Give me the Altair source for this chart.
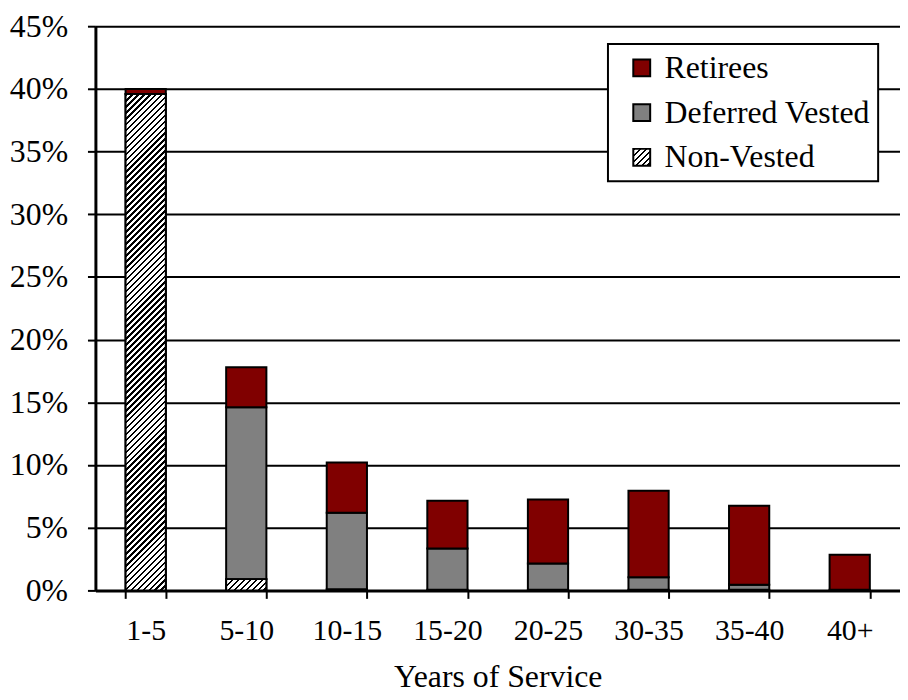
import altair as alt
import pandas as pd

# ---- data (percent of members) ----
categories = ["1-5", "5-10", "10-15", "15-20", "20-25", "30-35", "35-40", "40+"]
series = ["Retirees", "Deferred Vested", "Non-Vested"]
non_vested = [39.6, 0.9, 0.1, 0.05, 0.05, 0.05, 0.05, 0.05]
deferred = [0.0, 13.7, 6.1, 3.3, 2.1, 1.0, 0.4, 0.0]
retirees = [0.4, 3.2, 4.0, 3.8, 5.1, 6.9, 6.3, 2.8]
y_ticks = [0, 5, 10, 15, 20, 25, 30, 35, 40, 45]

# ---- layout / style ----
PLOT_W = 810
PLOT_H = 568
Y_MAX = 0.45
FONT = "Liberation Serif"
RED = "#800000"
GRAY = "#808080"
BAR_FRAC = 0.4
PERIOD = 6.0  # hatch period in (x+y) pixels


def hatch_gradient(w, h, period=PERIOD, dark=0.45):
    t = (w + h) / (w * w + h * h)
    span = w + h
    stops = []
    pos = 0.0
    while pos < span:
        a = pos / span
        b = min((pos + dark * period) / span, 1.0)
        c = min((pos + period) / span, 1.0)
        stops += [
            {"offset": round(a, 5), "color": "black"},
            {"offset": round(b, 5), "color": "black"},
            {"offset": round(b, 5), "color": "white"},
            {"offset": round(c, 5), "color": "white"},
        ]
        pos += period
    return {"gradient": "linear", "x1": 0, "y1": 0,
            "x2": round(t * w, 6), "y2": round(t * h, 6), "stops": stops}


def hatch_expr(size):
    g = hatch_gradient(size, size)
    stops = ",".join("{offset:%s,color:'%s'}" % (s["offset"], s["color"]) for s in g["stops"])
    return "{gradient:'linear',x1:0,y1:0,x2:1,y2:1,stops:[%s]}" % stops


rows = []
for i, cat in enumerate(categories):
    for order, (name, vals) in enumerate(
        [("Non-Vested", non_vested), ("Deferred Vested", deferred), ("Retirees", retirees)]
    ):
        rows.append({"cat": cat, "series": name, "order": order, "value": vals[i] / 100.0})
df = pd.DataFrame(rows)

x_enc = alt.X(
    "cat:N",
    sort=categories,
    scale=alt.Scale(paddingInner=0.6, paddingOuter=0.3),
    axis=alt.Axis(
        tickBand="extent", labelAngle=0, labelFont=FONT, labelFontSize=30,
        labelColor="black", labelPadding=17, tickColor="black", tickSize=8,
        tickWidth=2, domainColor="black", domainWidth=3, grid=False,
        title="Years of Service", titleFont=FONT, titleFontSize=32,
        titleFontWeight="normal", titleColor="black", titlePadding=17,
    ),
)
y_enc = alt.Y(
    "y1:Q",
    scale=alt.Scale(domain=[0, Y_MAX], nice=False),
    axis=alt.Axis(
        values=[v / 100 for v in y_ticks], format=".0%", labelFont=FONT,
        labelFontSize=32, labelColor="black", labelPadding=20, tickColor="black",
        tickSize=8, tickWidth=2, domainColor="black", domainWidth=3,
        gridColor="black", gridWidth=2, title=None,
    ),
)

base = alt.Chart(df).transform_stack(
    stack="value", groupby=["cat"], as_=["y0", "y1"],
    sort=[alt.SortField("order", order="ascending")],
)

bars = base.mark_bar(stroke="black", strokeWidth=2).encode(
    x=x_enc,
    y=y_enc,
    y2="y0:Q",
    color=alt.Color(
        "series:N",
        scale=alt.Scale(domain=series, range=[RED, GRAY, alt.ExprRef(expr=hatch_expr(17))]),
        legend=alt.Legend(
            title=None, orient="none", legendX=516, legendY=18,
            fillColor="white", strokeColor="black", padding=8,
            symbolType="square", symbolSize=289, symbolStrokeColor="black",
            symbolStrokeWidth=2, symbolOffset=10, labelFont=FONT, labelFontSize=32,
            labelColor="black", labelOffset=7, rowPadding=13, labelLimit=400,
        ),
    ),
)

layers = [bars]
band = PLOT_W / len(categories)
for i, cat in enumerate(categories):
    h = non_vested[i] / 100.0 / Y_MAX * PLOT_H
    if h < 3:
        continue
    w = band * BAR_FRAC
    layers.append(
        base.transform_filter(
            (alt.datum.cat == cat) & (alt.datum.series == "Non-Vested")
        ).mark_bar(fill=hatch_gradient(w, h), stroke="black", strokeWidth=2).encode(
            x=x_enc, y=y_enc, y2="y0:Q"
        )
    )

chart = alt.layer(*layers).properties(
    width=PLOT_W, height=PLOT_H, background="white",
    autosize=alt.AutoSizeParams(type="none"),
    padding={"left": 88, "top": 16, "right": 0, "bottom": 108},
).configure_view(stroke=None).configure_legend(strokeWidth=2)

chart.save("out.html", embed_options={"renderer": "svg", "actions": False})
